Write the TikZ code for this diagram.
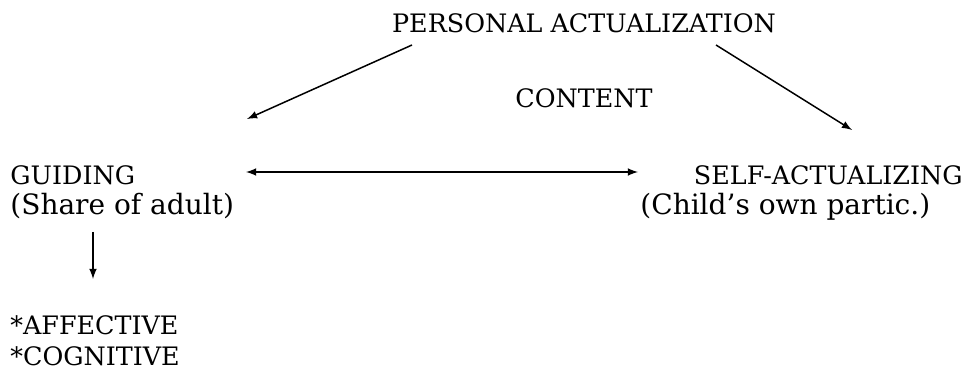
\documentclass[tikz,border=0pt]{standalone}
\usepackage{fontspec}
\setmainfont{DejaVu Serif}
\begin{document}
\begin{tikzpicture}[
    x=0.5pt, y=-0.5pt,
    label_style/.style={inner sep=0pt, font=\fontsize{12.7}{15}\selectfont},
    sub_style/.style={label_style, font=\fontsize{14}{16}\selectfont},
    arrow_style/.style={line width=0.75pt, -latex}
]
\useasboundingbox (0,0) rectangle (973,373);
% Top of the triangle
\node[label_style, anchor=base] (pa) at (584,33) {PERSONAL ACTUALIZATION};
\node[label_style, anchor=base] (ct) at (584,108) {CONTENT};
% Left corner
\node[label_style, anchor=base west] (gd) at (10,185) {GUIDING};
\node[sub_style, anchor=base west] (gdsub) at (10,215) {(Share of adult)};
\node[label_style, anchor=base west] (aff) at (10,335) {*AFFECTIVE};
\node[label_style, anchor=base west] (cog) at (10,365) {*COGNITIVE};
% Right corner
\node[label_style, anchor=base east] (sa) at (963,185) {SELF-ACTUALIZING};
\node[sub_style, anchor=base west] (sasub) at (640,215) {(Child's own partic.)};
% Arrow ends
\coordinate (pa-l) at (412,45);
\coordinate (gd-t) at (247,119);
\coordinate (pa-r) at (716,45);
\coordinate (sa-t) at (852,130);
\coordinate (gd-r) at (246,172);
\coordinate (sa-l) at (638,172);
\coordinate (gd-b) at (93,232);
\coordinate (aff-t) at (93,279);
\draw[arrow_style] (pa-l) -- (gd-t);
\draw[arrow_style] (pa-r) -- (sa-t);
\draw[arrow_style, latex-latex] (gd-r) -- (sa-l);
\draw[arrow_style] (gd-b) -- (aff-t);
\end{tikzpicture}
\end{document}
